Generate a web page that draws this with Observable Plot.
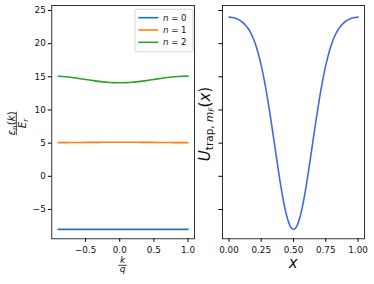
<!DOCTYPE html>
<html><head><meta charset="utf-8">
<script src="https://cdn.jsdelivr.net/npm/d3@7"></script>
<script src="https://cdn.jsdelivr.net/npm/@observablehq/plot@0.6"></script>
<style>
body{margin:0;background:#fff;}
#wrap{position:relative;width:374px;height:284px;overflow:hidden;background:#fff;}
#wrap svg{position:absolute;top:0;}
</style></head><body><div id="wrap"></div>
<script>
const kValues = [-0.9,-0.8,-0.7,-0.6,-0.5,-0.4,-0.3,-0.2,-0.1,0,0.1,0.2,0.3,0.4,0.5,0.6,0.7,0.8,0.9,1.0];
const band0 = [-8.0,-8.0,-8.0,-8.0,-8.0,-8.0,-8.0,-8.0,-8.0,-8.0,-8.0,-8.0,-8.0,-8.0,-8.0,-8.0,-8.0,-8.0,-8.0,-8.0];
const band1 = [5.08,5.08,5.09,5.10,5.11,5.12,5.12,5.13,5.13,5.13,5.13,5.13,5.12,5.12,5.11,5.10,5.09,5.08,5.08,5.08];
const band2 = [15.08,15.00,14.89,14.75,14.60,14.45,14.31,14.20,14.12,14.10,14.12,14.20,14.31,14.45,14.60,14.75,14.89,15.00,15.08,15.10];
const bandNames = ["0","1","2"];
const bandColors = ["#1f77b4","#ff7f0e","#2ca02c"];
const xValues = [0,0.025,0.05,0.075,0.1,0.125,0.15,0.175,0.2,0.225,0.25,0.275,0.3,0.325,0.35,0.375,0.4,0.425,0.45,0.475,0.5,
  0.525,0.55,0.575,0.6,0.625,0.65,0.675,0.7,0.725,0.75,0.775,0.8,0.825,0.85,0.875,0.9,0.925,0.95,0.975,1.0];
const uValues = [24.0,23.95,23.82,23.62,23.3,22.86,22.24,21.38,20.21,18.67,16.72,14.36,11.6,8.51,5.22,1.9,-1.25,-4.01,-6.16,-7.53,-8.0,
  -7.53,-6.16,-4.01,-1.25,1.9,5.22,8.51,11.6,14.36,16.72,18.67,20.21,21.38,22.24,22.86,23.3,23.62,23.82,23.95,24.0];
const yTicks = [-5,0,5,10,15,20,25];
const kTicks = [-0.5,0,0.5,1];
const xTicks = [0,0.25,0.5,0.75,1];

const bands = [band0, band1, band2];
const bandRows = bands.flatMap((vals, i) => vals.map((v, j) => ({k: kValues[j], e: v, n: bandNames[i]})));
const uRows = xValues.map((x, i) => ({x, u: uValues[i]}));

const style = {fontFamily: "DejaVu Sans", fontSize: "8.8px", color: "#111", background: "transparent", overflow: "visible"};
const yDomain = [-9.42, 25.75];

const left = Plot.plot({
  width: 200, height: 284, marginLeft: 51.3, marginRight: 6, marginTop: 5, marginBottom: 45.7,
  style,
  x: {domain: [-0.995, 1.095]},
  y: {domain: yDomain},
  color: {domain: bandNames, range: bandColors},
  marks: [
    Plot.line(bandRows, {x: "k", y: "e", z: "n", stroke: "n", strokeWidth: 1.6, curve: "monotone-x"}),
    Plot.frame({stroke: "#000", strokeWidth: 0.8}),
    Plot.axisX(kTicks, {tickSize: 3.5, tickPadding: 4.5, tickFormat: d3.format(".1f"), label: null, stroke: "#000"}),
    Plot.axisY(yTicks, {tickSize: 3.5, tickPadding: 2.5, tickFormat: d3.format("d"), label: null, stroke: "#000"})
  ]
});

const right = Plot.plot({
  width: 174, height: 284, marginLeft: 22, marginRight: 10, marginTop: 5, marginBottom: 45.7,
  style,
  x: {domain: [-0.05, 1.05]},
  y: {domain: yDomain},
  marks: [
    Plot.line(uRows, {x: "x", y: "u", stroke: "#4169e1", strokeWidth: 1.6, curve: "monotone-x"}),
    Plot.frame({stroke: "#000", strokeWidth: 0.8}),
    Plot.axisX(xTicks, {tickSize: 3.5, tickPadding: 4.5, tickFormat: d3.format(".2f"), label: null, stroke: "#000"}),
    Plot.axisY(yTicks, {tickSize: 3.5, tickFormat: () => "", label: null, stroke: "#000"})
  ]
});
right.style.left = "200px";
left.style.left = "0px";
const wrap = document.getElementById("wrap");
wrap.appendChild(left);
wrap.appendChild(right);

// Left y label (fraction)
const L = d3.select(left);
const fy = L.append("g").attr("transform", "translate(14.5,123.4) rotate(-90)").attr("fill", "#111").attr("font-family", "DejaVu Sans");
const num = fy.append("text").attr("text-anchor", "middle").attr("font-size", 10.3);
num.append("tspan").attr("font-style", "italic").text("ε");
num.append("tspan").attr("font-style", "italic").attr("font-size", 7.2).attr("dy", 2).text("n");
num.append("tspan").attr("dy", -2).text("(");
num.append("tspan").attr("font-style", "italic").text("k");
num.append("tspan").text(")");
fy.append("line").attr("x1", -11.7).attr("x2", 11.7).attr("y1", 1.8).attr("y2", 1.8).attr("stroke", "#111").attr("stroke-width", 0.8);
const den = fy.append("text").attr("text-anchor", "middle").attr("font-size", 10.3).attr("y", 11);
den.append("tspan").attr("font-style", "italic").text("E");
den.append("tspan").attr("font-style", "italic").attr("font-size", 7.2).attr("dy", 2).text("r");

// Left x label (fraction k/q)
const fx = L.append("g").attr("transform", "translate(122.5,0)").attr("fill", "#111").attr("font-family", "DejaVu Sans").attr("font-style", "italic");
fx.append("text").attr("text-anchor", "middle").attr("font-size", 9).attr("y", 263.3).text("k");
fx.append("line").attr("x1", -4.2).attr("x2", 4.2).attr("y1", 265.3).attr("y2", 265.3).attr("stroke", "#111").attr("stroke-width", 0.8);
fx.append("text").attr("text-anchor", "middle").attr("font-size", 9).attr("y", 271.8).text("q");

// Legend
const lg = L.append("g").attr("font-family", "DejaVu Sans");
lg.append("rect").attr("x", 135).attr("y", 9.3).attr("width", 58).attr("height", 42.4).attr("rx", 2)
  .attr("fill", "#fff").attr("fill-opacity", 0.8).attr("stroke", "#ccc").attr("stroke-width", 0.8);
const rowsY = [17.7, 30, 42.3];
bandNames.forEach((name, i) => {
  lg.append("line").attr("x1", 138.3).attr("x2", 158.3).attr("y1", rowsY[i]).attr("y2", rowsY[i])
    .attr("stroke", bandColors[i]).attr("stroke-width", 1.6);
  const t = lg.append("text").attr("x", 163).attr("y", rowsY[i] + 3.1).attr("font-size", 8.6)
    .attr("fill", "#111").attr("text-anchor", "start");
  t.append("tspan").attr("font-style", "italic").text("n");
  t.append("tspan").text(" = " + name);
});

// Right labels
const R = d3.select(right);
const uy = R.append("text").attr("transform", "translate(9.5,124) rotate(-90)").attr("text-anchor", "middle")
  .attr("font-family", "DejaVu Sans").attr("font-size", 15).attr("fill", "#111");
uy.append("tspan").attr("font-style", "italic").text("U");
uy.append("tspan").attr("font-size", 10.5).attr("dy", 3).text("trap, ");
uy.append("tspan").attr("font-size", 10.5).attr("font-style", "italic").text("m");
uy.append("tspan").attr("font-size", 7.5).attr("font-style", "italic").attr("dy", 1.5).text("F");
uy.append("tspan").attr("dy", -4.5).text("(");
uy.append("tspan").attr("font-style", "italic").text("x");
uy.append("tspan").text(")");
R.append("text").attr("x", 93.3).attr("y", 267.7).attr("text-anchor", "middle").attr("font-family", "DejaVu Sans")
  .attr("font-size", 15).attr("font-style", "italic").attr("fill", "#111").text("x");
</script></body></html>
